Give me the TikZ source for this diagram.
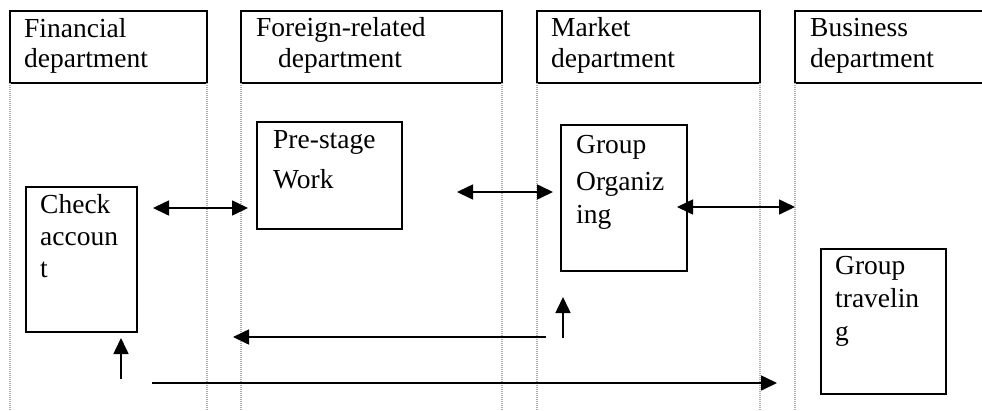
\documentclass[tikz,border=0pt]{standalone}
\usepackage{fontspec}
\setmainfont{Liberation Serif}
\usetikzlibrary{arrows.meta}
\begin{document}
\begin{tikzpicture}[x=1pt,y=-1pt,
  box/.style={draw=black,line width=2pt,minimum width=#1,anchor=north west,inner sep=0pt,outer sep=0pt},
  txt/.style={anchor=base west,inner sep=0pt,font=\fontsize{27.5}{30}\selectfont},
  lane/.style={draw=black!32,line width=1.2pt,dash pattern=on 1pt off 1pt},
  conn/.style={line width=1.6pt},
  tip/.style={-{Triangle[length=16pt,width=15pt]}},
  dtip/.style={{Triangle[length=16pt,width=15pt]}-{Triangle[length=16pt,width=15pt]}}]
\useasboundingbox (0,0) rectangle (982,410);
\coordinate (bot) at (0,410);
% header boxes
\node[box=197,minimum height=72] (fin) at (10,11) {};
\node[box=261,minimum height=72] (for) at (241,11) {};
\node[box=223,minimum height=72] (mar) at (537,11) {};
\node[box=200,minimum height=72] (bus) at (795,11) {};
\node[txt] (fin1) at (24,37) {Financial};
\node[txt] (fin2) at (24,67) {department};
\node[txt] (for1) at (256,36) {Foreign-related};
\node[txt] (for2) at (278,67) {department};
\node[txt] (mar1) at (551,36) {Market};
\node[txt] (mar2) at (551,67) {department};
\node[txt] (bus1) at (810,36) {Business};
\node[txt] (bus2) at (810,67) {department};
% lanes
\foreach \n in {fin,for,mar,bus}{
  \draw[lane] (\n.south west) -- (\n.south west |- bot);
}
\foreach \n in {fin,for,mar}{
  \draw[lane] (\n.south east) -- (\n.south east |- bot);
}
% process boxes
\node[box=145,minimum height=107] (pre) at (257,122) {};
\node[txt] (pre1) at (273,148) {Pre-stage};
\node[txt] (pre2) at (273,188) {Work};
\node[box=126,minimum height=146] (org) at (561,125) {};
\node[txt] (org1) at (576,153) {Group};
\node[txt] (org2) at (576,190) {Organiz};
\node[txt] (org3) at (576,223) {ing};
\node[box=111,minimum height=145] (chk) at (26,187) {};
\node[txt] (chk1) at (40,213) {Check};
\node[txt] (chk2) at (40,245) {accoun};
\node[txt] (chk3) at (40,277) {t};
\node[box=125,minimum height=145] (trv) at (821,249) {};
\node[txt] (trv1) at (835,274) {Group};
\node[txt] (trv2) at (835,307) {travelin};
\node[txt] (trv3) at (835,340) {g};
% connector end points
\coordinate (a1) at (153,208); \coordinate (a2) at (248,208);
\coordinate (b1) at (457,192); \coordinate (b2) at (553,192);
\coordinate (c1) at (677,207); \coordinate (c2) at (795,207);
\coordinate (d1) at (546,337); \coordinate (d2) at (233,337);
\coordinate (e1) at (121,379); \coordinate (e2) at (121,338);
\coordinate (f1) at (563,338); \coordinate (f2) at (563,297);
\coordinate (g1) at (152,383); \coordinate (g2) at (777,383);
\draw[conn,dtip] (a1) -- (a2);
\draw[conn,dtip] (b1) -- (b2);
\draw[conn,dtip] (c1) -- (c2);
\draw[conn,tip] (d1) -- (d2);
\draw[conn,tip] (e1) -- (e2);
\draw[conn,tip] (f1) -- (f2);
\draw[conn,tip] (g1) -- (g2);
\end{tikzpicture}
\end{document}
